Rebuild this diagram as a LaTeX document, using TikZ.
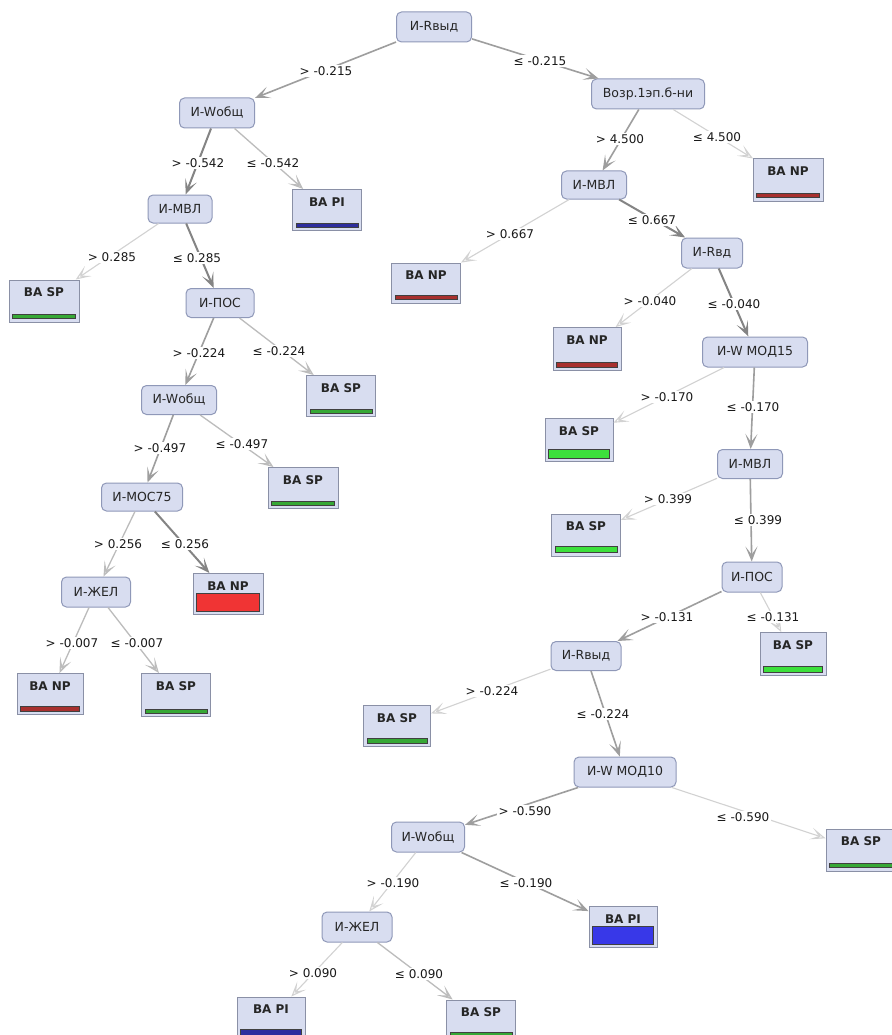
\documentclass[tikz,border=0pt]{standalone}
\usepackage{fontspec}
\setmainfont{DejaVu Sans}
\usetikzlibrary{arrows.meta}
\definecolor{nfill}{HTML}{D8DDF0}
\definecolor{nborder}{HTML}{8F98B8}
\definecolor{lborder}{HTML}{8A90A6}
\definecolor{npc}{HTML}{F03434}
\definecolor{spc}{HTML}{3CE03C}
\definecolor{pic}{HTML}{3838E8}
\definecolor{npd}{HTML}{A8302E}
\definecolor{spd}{HTML}{36A836}
\definecolor{pid}{HTML}{2E2E9E}
\definecolor{ec1}{HTML}{D2D2D2}
\definecolor{ec2}{HTML}{BCBCBC}
\definecolor{ec3}{HTML}{9E9E9E}
\definecolor{ec4}{HTML}{848484}
\tikzset{
  inode/.style={draw=nborder, fill=nfill, line width=1pt, rounded corners=5pt, inner sep=0pt,
    font=\fontsize{12.5}{14}\selectfont, text=black!85},
  lnode/.style={draw=lborder, fill=nfill, line width=1pt, inner sep=0pt},
  ltext/.style={font=\bfseries\fontsize{12}{14}\selectfont, text=black!85, inner sep=0pt},
  lab/.style={font=\fontsize{12}{14}\selectfont, text=black!90, inner sep=1.5pt, fill=white},
  barbox/.style={draw=black!75, line width=0.9pt},
  tedge/.style={-{Stealth[length=15pt,width=12pt,inset=8pt,open]}},
  e1/.style={tedge, draw=ec1, line width=1.1pt},
  e2/.style={tedge, draw=ec2, line width=1.3pt},
  e3/.style={tedge, draw=ec3, line width=1.6pt},
  e4/.style={tedge, draw=ec4, line width=2pt},
}
\newcommand\treeinner[6]{\node[inode, minimum width=#4pt, minimum height=#5pt] (#1) at (#2,#3) {#6};}
\newcommand\treeleaf[8]{%
  \node[lnode, minimum width=#4pt, minimum height=#5pt] (#1) at (#2,#3) {};
  \node[ltext] (#1t) at ([yshift=-13pt]#1.north) {#6};
  \draw[barbox, fill=#7] ([xshift=4pt,yshift=4pt]#1.south west) rectangle ([xshift=-4pt,yshift={4pt+#8pt}]#1.south east);
}
\newcommand\tedgelab[5]{\draw[#1] (#2) -- (#3); \node[lab] at (#4) {#5};}
\begin{document}
\begin{tikzpicture}[x=1pt,y=-1pt]
\useasboundingbox (0,0) rectangle (891,1035);
\fill[white] (0,0) rectangle (891,1035);
% internal nodes
\treeinner{n1}{434}{27}{75}{30}{И-Rвыд}
\treeinner{n2}{217}{113}{75}{30}{И-Wобщ}
\treeinner{n3}{648}{94}{113}{30}{Возр.1эп.б-ни}
\treeinner{n4}{594}{185}{65}{28}{И-МВЛ}
\treeinner{n6}{180}{209}{64}{28}{И-МВЛ}
\treeinner{n9}{220}{303}{68}{29}{И-ПОС}
\treeinner{n11}{712}{253}{61}{30}{И-Rвд}
\treeinner{n13}{755}{352}{105}{30}{И-W МОД15}
\treeinner{n15}{750}{464}{65}{29}{И-МВЛ}
\treeinner{n17}{752}{577}{60}{30}{И-ПОС}
\treeinner{n19}{586}{656}{70}{29}{И-Rвыд}
\treeinner{n21}{625}{772}{102}{30}{И-W МОД10}
\treeinner{n23}{428}{837}{73}{30}{И-Wобщ}
\treeinner{n24}{357}{927}{70}{30}{И-ЖЕЛ}
\treeinner{n28}{179}{400}{75}{29}{И-Wобщ}
\treeinner{n31}{142}{497}{81}{28}{И-МОС75}
\treeinner{n33}{96}{592}{69}{30}{И-ЖЕЛ}
% leaves
\treeleaf{l5}{788}{180}{70}{42}{BA NP}{npd}{4}
\treeleaf{l7}{327}{210}{69}{41}{BA PI}{pid}{4}
\treeleaf{l8}{44}{301}{70}{42}{BA SP}{spd}{4}
\treeleaf{l10}{426}{283}{69}{40}{BA NP}{npd}{4}
\treeleaf{l12}{587}{349}{68}{43}{BA NP}{npd}{5}
\treeleaf{l14}{579}{440}{68}{43}{BA SP}{spc}{9}
\treeleaf{l16}{586}{535}{69}{42}{BA SP}{spc}{6}
\treeleaf{l18}{793}{654}{66}{43}{BA SP}{spc}{6}
\treeleaf{l20}{397}{726}{67}{41}{BA SP}{spd}{5}
\treeleaf{l22}{861}{850}{70}{42}{BA SP}{spd}{4}
\treeleaf{l25}{623}{927}{68}{41}{BA PI}{pic}{18}
\treeleaf{l26}{271}{1018}{68}{42}{BA PI}{pid}{6}
\treeleaf{l27}{481}{1021}{69}{42}{BA SP}{spd}{6}
\treeleaf{l29}{341}{396}{69}{41}{BA SP}{spd}{4}
\treeleaf{l30}{303}{488}{70}{41}{BA SP}{spd}{4}
\treeleaf{l32}{228}{594}{70}{41}{BA NP}{npc}{18}
\treeleaf{l34}{50}{694}{66}{41}{BA NP}{npd}{5}
\treeleaf{l35}{176}{695}{69}{43}{BA SP}{spd}{4}
% edges
\tedgelab{e3}{n1}{n2}{326,71}{> -0.215}
\tedgelab{e3}{n1}{n3}{540,61}{≤ -0.215}
\tedgelab{e3}{n3}{n4}{620,139}{> 4.500}
\tedgelab{e1}{n3}{l5}{717,137}{≤ 4.500}
\tedgelab{e4}{n2}{n6}{198,163}{> -0.542}
\tedgelab{e2}{n2}{l7}{273,163}{≤ -0.542}
\tedgelab{e1}{n6}{l8}{112,257}{> 0.285}
\tedgelab{e4}{n6}{n9}{197,258}{≤ 0.285}
\tedgelab{e1}{n4}{l10}{510,234}{> 0.667}
\tedgelab{e4}{n4}{n11}{652,220}{≤ 0.667}
\tedgelab{e1}{n11}{l12}{650,301}{> -0.040}
\tedgelab{e4}{n11}{n13}{734,304}{≤ -0.040}
\tedgelab{e3}{n9}{n28}{199,353}{> -0.224}
\tedgelab{e2}{n9}{l29}{279,351}{≤ -0.224}
\tedgelab{e3}{n28}{n31}{160,448}{> -0.497}
\tedgelab{e2}{n28}{l30}{242,444}{≤ -0.497}
\tedgelab{e2}{n31}{n33}{118,544}{> 0.256}
\tedgelab{e4}{n31}{l32}{185,544}{≤ 0.256}
\tedgelab{e2}{n33}{l34}{72,643}{> -0.007}
\tedgelab{e2}{n33}{l35}{137,643}{≤ -0.007}
\tedgelab{e1}{n13}{l14}{667,397}{> -0.170}
\tedgelab{e3}{n13}{n15}{753,407}{≤ -0.170}
\tedgelab{e1}{n15}{l16}{668,499}{> 0.399}
\tedgelab{e3}{n15}{n17}{758,520}{≤ 0.399}
\tedgelab{e3}{n17}{n19}{667,617}{> -0.131}
\tedgelab{e1}{n17}{l18}{773,617}{≤ -0.131}
\tedgelab{e1}{n19}{l20}{492,691}{> -0.224}
\tedgelab{e3}{n19}{n21}{603,714}{≤ -0.224}
\tedgelab{e3}{n21}{n23}{525,811}{> -0.590}
\tedgelab{e1}{n21}{l22}{743,817}{≤ -0.590}
\tedgelab{e1}{n23}{n24}{393,883}{> -0.190}
\tedgelab{e3}{n23}{l25}{526,883}{≤ -0.190}
\tedgelab{e1}{n24}{l26}{313,973}{> 0.090}
\tedgelab{e2}{n24}{l27}{419,974}{≤ 0.090}
\end{tikzpicture}
\end{document}
